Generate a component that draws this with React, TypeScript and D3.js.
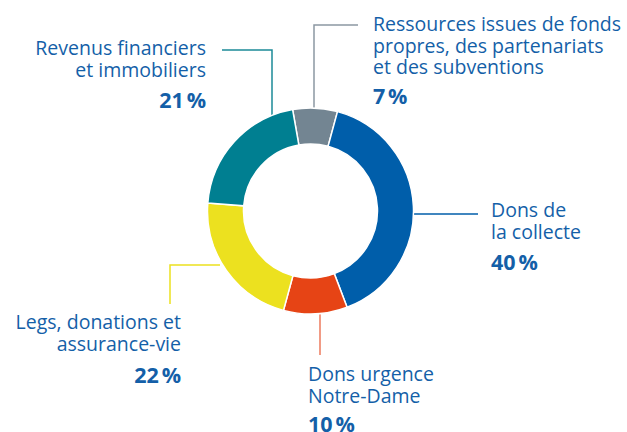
import React, { useEffect, useRef } from 'react';
import * as d3 from 'd3';

// Data
const categories = [
  'Ressources issues de fonds propres, des partenariats et des subventions',
  'Dons de la collecte',
  'Dons urgence Notre-Dame',
  'Legs, donations et assurance-vie',
  'Revenus financiers et immobiliers',
];
const labelLines = [
  ['Ressources issues de fonds', 'propres, des partenariats', 'et des subventions'],
  ['Dons de', 'la collecte'],
  ['Dons urgence', 'Notre-Dame'],
  ['Legs, donations et', 'assurance-vie'],
  ['Revenus financiers', 'et immobiliers'],
];
const shares = [7, 40, 10, 22, 21];
const percentLabels = ['7\u202f%', '40\u202f%', '10\u202f%', '22\u202f%', '21\u202f%'];

// Styles
const sliceColors = ['#738592', '#005eaa', '#e64415', '#ece11f', '#007f91'];
const leaderColors = ['#8c98a2', '#005eaa', '#ec7a5c', '#ece11f', '#1c8a98'];
const textColor = '#145fa8';

// Layout: label anchors and leader polylines (pixels)
const labelLayout = [
  { x: 373, y: 31, anchor: 'start', pctY: 104, line: [[358, 25], [314, 25], [314, 109]] },
  { x: 491, y: 217, anchor: 'start', pctY: 270, line: [[478, 214], [414, 214]] },
  { x: 308, y: 381, anchor: 'start', pctY: 432, line: [[320, 355], [320, 314]] },
  { x: 181, y: 329, anchor: 'end', pctY: 383, line: [[170, 304], [170, 265], [220, 265]] },
  { x: 206, y: 55, anchor: 'end', pctY: 108, line: [[222, 50], [272, 50], [272, 116]] },
];

const width = 627;
const height = 432;
const cx = 310.5;
const cy = 211;
const outerR = 103;
const innerR = 67;

export default function App() {
  const ref = useRef<SVGSVGElement>(null);

  useEffect(() => {
    const svg = d3.select(ref.current);
    svg.selectAll('*').remove();

    const pie = d3.pie<number>()
      .sort(null)
      .startAngle(-10 * Math.PI / 180)
      .endAngle(350 * Math.PI / 180);
    const arcs = pie(shares);
    const arc = d3.arc<d3.PieArcDatum<number>>()
      .innerRadius(innerR)
      .outerRadius(outerR);

    // Leader lines
    const line = d3.line();
    svg.append('g')
      .selectAll('path')
      .data(labelLayout)
      .enter()
        .append('path')
        .attr('d', d => line(d.line as [number, number][]))
        .attr('fill', 'none')
        .attr('stroke', (d, i) => leaderColors[i])
        .attr('stroke-width', 1.5);

    // Donut
    svg.append('g')
      .attr('transform', `translate(${cx}, ${cy})`)
      .selectAll('path')
      .data(arcs)
      .enter()
        .append('path')
        .attr('d', arc)
        .attr('fill', (d, i) => sliceColors[i])
        .attr('stroke', '#fff')
        .attr('stroke-width', 1.5)
        .append('title')
          .text((d, i) => categories[i]);

    // Labels
    const labels = svg.append('g')
      .attr('font-family', '"Open Sans", sans-serif')
      .attr('fill', textColor);

    labelLayout.forEach((pos, i) => {
      const t = labels.append('text')
        .attr('text-anchor', pos.anchor)
        .attr('font-size', 19.5);
      labelLines[i].forEach((txt, j) => {
        t.append('tspan')
          .attr('x', pos.x)
          .attr('y', pos.y + j * 21.5)
          .text(txt);
      });
      labels.append('text')
        .attr('text-anchor', pos.anchor)
        .attr('x', pos.x)
        .attr('y', pos.pctY)
        .attr('font-size', 21.5)
        .attr('font-weight', 700)
        .text(percentLabels[i]);
    });
  }, []);

  return (
    <svg
      ref={ref}
      width={width}
      height={height}
      style={{ position: 'absolute', left: 0, top: 0, background: '#fff' }}
    />
  );
}
